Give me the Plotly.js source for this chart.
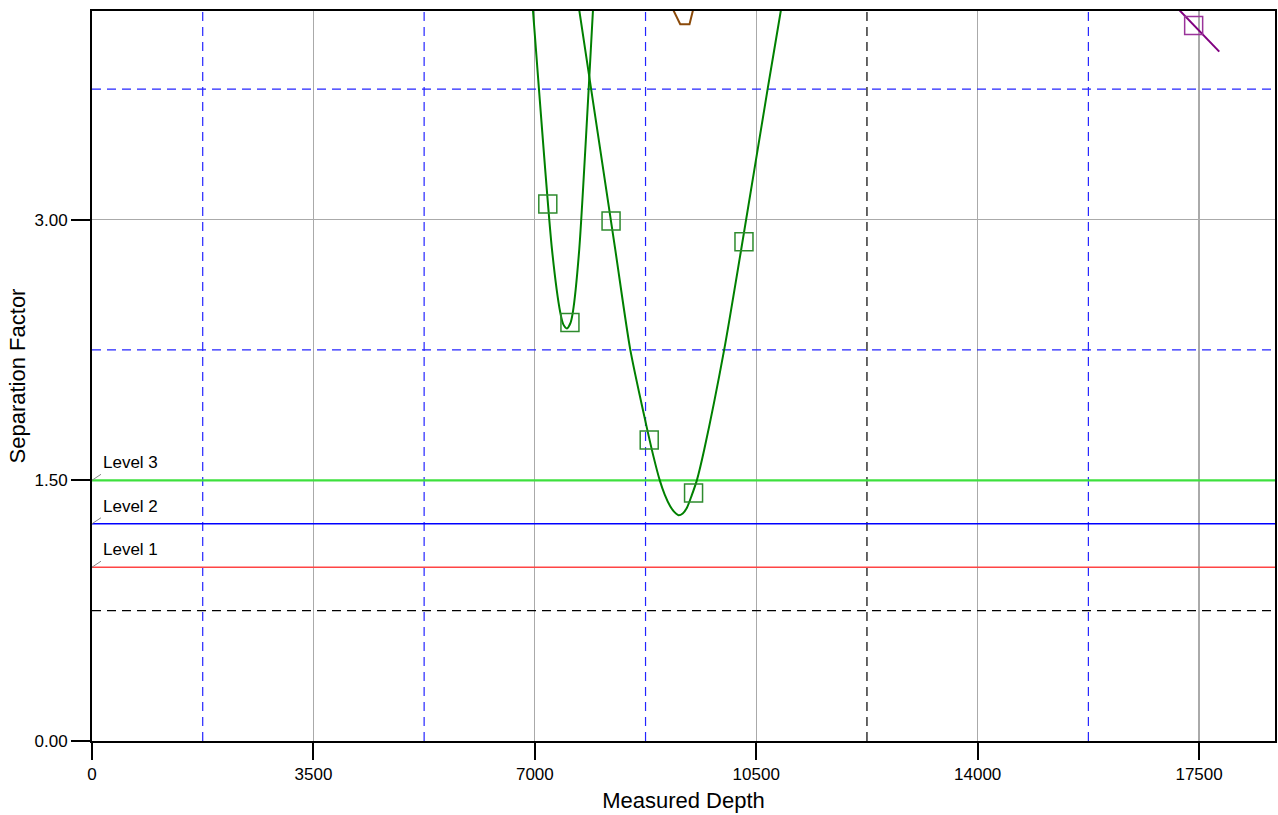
<!DOCTYPE html>
<html>
<head>
<meta charset="utf-8">
<script src="https://cdn.plot.ly/plotly-3.0.1.min.js"></script>
<style>html,body{margin:0;padding:0;background:#fff;}#chart{width:1278px;height:815px;}</style>
</head>
<body>
<div id="chart"></div>
<script>
// Axis extents
const xRange = [0, 18700];
const yRange = [0, 4.2];
// Curve A (narrow green dip)
const curveA_x = [6949, 6971, 7271, 7402, 7450, 7508, 7560, 7600, 7702, 7919, 7935];
const curveA_y = [4.30, 4.20, 2.828, 2.465, 2.397, 2.374, 2.402, 2.465, 2.828, 4.203, 4.30];
// Curve B (wide green dip)
const curveB_x = [7663, 7703, 8271, 8508, 8730, 8874, 8974, 9053, 9140, 9204, 9271, 9338, 9404, 9480, 9562, 9678, 9994, 10262, 10681, 10889, 10932];
const curveB_y = [4.30, 4.203, 2.828, 2.253, 1.869, 1.639, 1.501, 1.418, 1.351, 1.318, 1.299, 1.309, 1.342, 1.413, 1.501, 1.677, 2.253, 2.828, 3.753, 4.203, 4.30];
// Green markers
const markG_x = [7205, 7555, 8205, 8808, 9509, 10306];
const markG_y = [3.09, 2.408, 2.992, 1.732, 1.427, 2.872];
// Brown curve
const curveC_x = [9129, 9192, 9298, 9445, 9499, 9531];
const curveC_y = [4.25, 4.203, 4.124, 4.124, 4.203, 4.25];
// Purple curve + marker
const curveD_x = [17072, 17209, 17819];
const curveD_y = [4.249, 4.197, 3.966];
const markP_x = [17414];
const markP_y = [4.116];
// Levels
const levelNames = ["Level 1", "Level 2", "Level 3"];
const levelValues = [1.0, 1.25, 1.5];
const levelColors = ["#ff4444", "#0000ff", "#3ee03e"];
const levelWidths = [1.6, 1.6, 2.2];
// Dashed reference lines
const dashX = [1750, 5250, 8750, 12250, 15750];
const dashXColors = ["#2424ff", "#2424ff", "#2424ff", "#000000", "#2424ff"];
const dashY = [0.75, 2.25, 3.75];
const dashYColors = ["#000000", "#2424ff", "#2424ff"];
const xTicks = [0, 3500, 7000, 10500, 14000, 17500];
const yTicks = [0, 1.5, 3.0];

const font = "Liberation Sans, Arial, sans-serif";
const traces = [];
dashX.forEach((v, i) => traces.push({x: [v, v], y: yRange, mode: "lines", line: {color: dashXColors[i], width: 1.2, dash: "9px,6px"}, hoverinfo: "skip"}));
dashY.forEach((v, i) => traces.push({x: xRange, y: [v, v], mode: "lines", line: {color: dashYColors[i], width: 1.2, dash: "9px,6px"}, hoverinfo: "skip"}));
levelValues.forEach((v, i) => traces.push({x: xRange, y: [v, v], mode: "lines", line: {color: levelColors[i], width: levelWidths[i]}, hoverinfo: "skip"}));

traces.push(
  {x: curveA_x, y: curveA_y, mode: "lines", line: {color: "#008000", width: 2, shape: "spline", smoothing: 0.7}},
  {x: curveB_x, y: curveB_y, mode: "lines", line: {color: "#008000", width: 2, shape: "spline", smoothing: 0.7}},
  {x: markG_x, y: markG_y, mode: "markers", marker: {symbol: "square-open", size: 18, color: "#2e8b2e", line: {width: 1.5, color: "#2e8b2e"}}},
  {x: curveC_x, y: curveC_y, mode: "lines", line: {color: "#8b4a0a", width: 2}},
  {x: curveD_x, y: curveD_y, mode: "lines", line: {color: "#800080", width: 2}},
  {x: markP_x, y: markP_y, mode: "markers", marker: {symbol: "square-open", size: 18, color: "#9a339a", line: {width: 1.5, color: "#9a339a"}}}
);

const annotations = levelValues.map((v, i) => ({
  x: 0, y: v, xref: "x", yref: "y", text: levelNames[i], showarrow: true, arrowhead: 0, arrowwidth: 1, arrowcolor: "#888888",
  ax: 9, ay: -6, xanchor: "left", yanchor: "bottom", font: {family: font, size: 17, color: "#000"}
}));

const layout = {
  width: 1278, height: 815,
  margin: {l: 92, r: 3, t: 11, b: 74},
  paper_bgcolor: "#fff", plot_bgcolor: "#fff",
  showlegend: false,
  font: {family: font, size: 17, color: "#000"},
  xaxis: {
    range: xRange, tickvals: xTicks, tickformat: "d",
    showline: true, linecolor: "#000", linewidth: 2, mirror: true,
    ticks: "outside", ticklen: 17, tickwidth: 2, tickcolor: "#000",
    showgrid: true, gridcolor: "#aaaaaa", gridwidth: 1.2, zeroline: false,
    tickfont: {family: font, size: 17},
    title: {text: "Measured Depth", font: {family: font, size: 22}, standoff: 9}
  },
  yaxis: {
    range: yRange, tickvals: yTicks, tickformat: ".2f",
    showline: true, linecolor: "#000", linewidth: 2, mirror: true,
    ticks: "outside", ticklen: 19, tickwidth: 2, tickcolor: "#000",
    showgrid: true, gridcolor: "#aaaaaa", gridwidth: 1.2, zeroline: false,
    tickfont: {family: font, size: 17},
    title: {text: "Separation Factor", font: {family: font, size: 22}, standoff: 3}
  },
  annotations: annotations
};
Plotly.newPlot("chart", traces, layout, {displayModeBar: false, staticPlot: true});
</script>
</body>
</html>
